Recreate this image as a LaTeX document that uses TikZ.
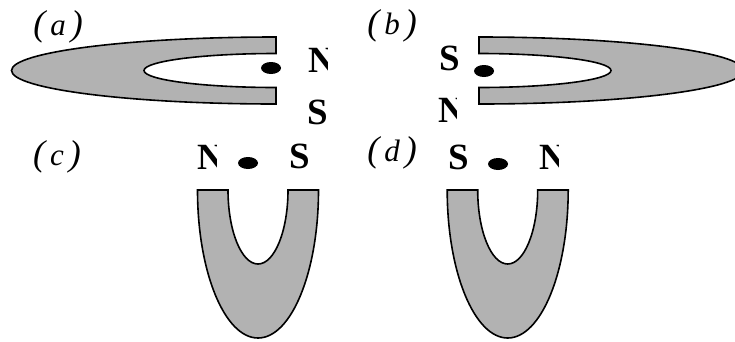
\documentclass[tikz,border=0pt]{standalone}
\usepackage{fontspec}
\setmainfont{Liberation Serif}
\definecolor{magnetgray}{HTML}{B2B2B2}
\newcommand{\tagtext}[1]{(\hspace{5pt}{\fontsize{31}{31}\selectfont #1}\hspace{5pt})}
\tikzset{
  x=1pt,y=-1pt,
  magnet/.style={draw=black,fill=magnetgray,line width=1.6pt,line join=miter},
  pivot/.style={fill=black,draw=none},
  pole/.style={inner sep=0pt,anchor=center,font=\fontsize{37}{37}\selectfont\bfseries},
  tag/.style={inner sep=0pt,anchor=center,font=\fontsize{36}{36}\selectfont\itshape}
}
\newcommand{\hmagnet}[3]{% x of open end, direction, y centre
  \draw[magnet] (#1,#3-33.5) arc[start angle=270,end angle=90,x radius=#2*264.5,y radius=33.5]
    -- (#1,#3+17) arc[start angle=90,end angle=270,x radius=#2*132,y radius=17] -- cycle;}
\newcommand{\vmagnet}[1]{% x of the centre
  \draw[magnet] (#1-60.5,190) arc[start angle=180,end angle=0,x radius=60.5,y radius=148]
    -- (#1+30,190) arc[start angle=0,end angle=180,x radius=30,y radius=74] -- cycle;}
\begin{document}
\begin{tikzpicture}
\useasboundingbox (0,0) rectangle (735,341);
% the magnets
\hmagnet{276}{1}{70.5}
\hmagnet{479}{-1}{70.5}
\vmagnet{258}
\vmagnet{507.7}
% pivots
\fill[pivot] (271,68) ellipse[x radius=10,y radius=6];
\fill[pivot] (484,71) ellipse[x radius=10,y radius=6];
\fill[pivot] (248,163) ellipse[x radius=10,y radius=6];
\fill[pivot] (498,164) ellipse[x radius=10,y radius=6];
% S poles
\node[pole] (sa) at (318,112.5) {S};
\node[pole] (sb) at (450,58.5) {S};
\node[pole] (sc) at (299.5,156.5) {S};
\node[pole] (sd) at (459,157) {S};
% N poles, their right side cut off as in the figure
\begin{scope}\clip (290,30) rectangle (327,90);
\node[pole] (na) at (321.4,60.5) {N};\end{scope}
\begin{scope}\clip (430,90) rectangle (456.3,130);
\node[pole] (nb) at (452,110) {N};\end{scope}
\begin{scope}\clip (190,135) rectangle (216,180);
\node[pole] (nc) at (210.5,157) {N};\end{scope}
\begin{scope}\clip (530,135) rectangle (558,180);
\node[pole] (nd) at (553,157.5) {N};\end{scope}
% labels
\node[tag] (la) at (58,27) {\tagtext{a}};
\node[tag] (lb) at (392,26) {\tagtext{b}};
\node[tag] (lc) at (57,157) {\tagtext{c}};
\node[tag] (ld) at (392,153) {\tagtext{d}};
\end{tikzpicture}
\end{document}
